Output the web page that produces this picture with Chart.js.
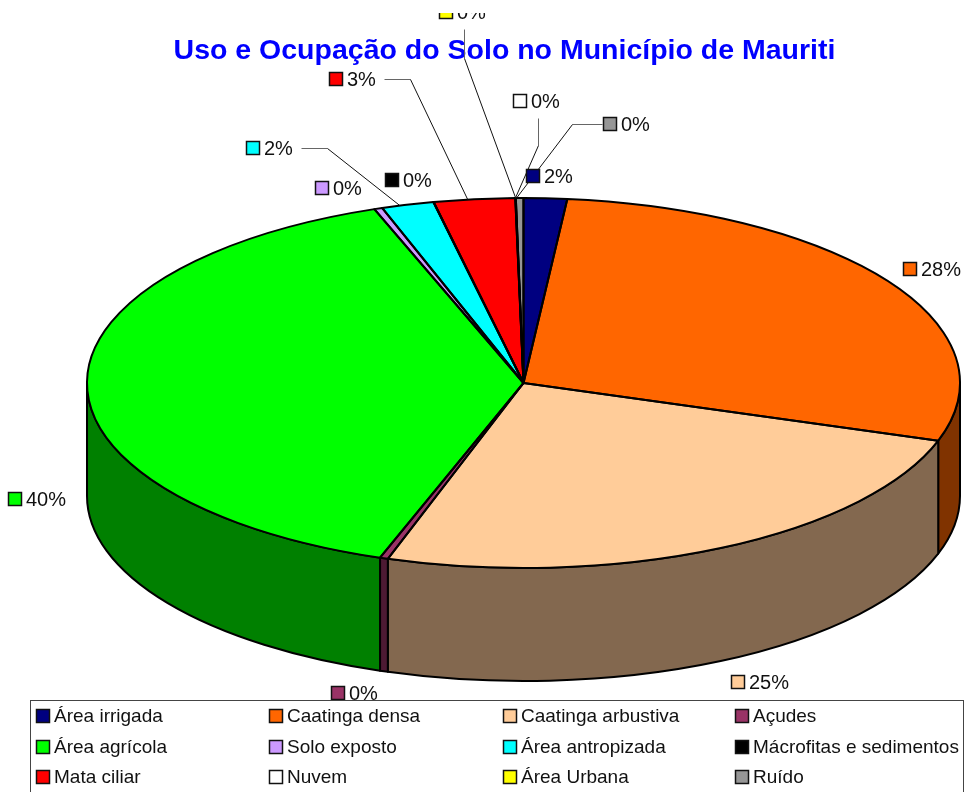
<!DOCTYPE html>
<html>
<head>
<meta charset="utf-8">
<style>html,body{margin:0;padding:0;background:#fff}canvas{display:block}</style>
<script src="https://cdn.jsdelivr.net/npm/chart.js@4"></script>
</head>
<body>
<canvas id="c" width="965" height="792"></canvas>
<script>
const chartTitle = 'Uso e Ocupação do Solo no Município de Mauriti';
const categories = ['Área irrigada','Caatinga densa','Caatinga arbustiva','Açudes','Área agrícola','Solo exposto','Área antropizada','Mácrofitas e sedimentos','Mata ciliar','Nuvem','Área Urbana','Ruído'];
const shares = [1.6,28.45,24.98,0.3,39.12,0.3,1.94,0.01,3.0,0.01,0.01,0.28];
const percentLabels = ['2%','28%','25%','0%','40%','0%','2%','0%','3%','0%','0%','0%'];
const topColours = ['#000080','#FF6600','#FFCC99','#993366','#00FF00','#CC99FF','#00FFFF','#000000','#FF0000','#FFFFFF','#FFFF00','#969696'];
const sideColours = ['#000040','#803300','#83684F','#4D1A33','#008000','#664C80','#008080','#000000','#800000','#808080','#808000','#4B4B4B'];

// Layout of the drawing (not data)
const FONT = '"Liberation Sans", Arial, sans-serif';
const PIE = {cx:523.5, cy:383, rx:436.5, ry:185, depth:113};
const labelSpots = [[526,176],[903,269],[731,682],[331,693],[8,499],[315,188],[246,148],[385,180],[329,79],[513,101],[439,12],[603,124]];
// index -> first points of the leader, and where along the slice it lands
const leaders = {
  6:{pts:[[301,148],[327,148]],f:0.35},
  8:{pts:[[384,79],[410,79]],f:0.42},
  9:{pts:[[538,118],[538,145]],f:0.5},
  10:{pts:[[464,29],[464,58]],f:0.5},
  11:{pts:[[602,124],[572,124]],f:0.1}
};
const legendCols = [36,269,503,735];
const legendRows = [716,747,777];

function arcs(chart){ return chart.getDatasetMeta(0).data; }

const pie3d = {
  id:'pie3d',
  beforeDatasetsDraw(chart){
    const ctx = chart.ctx, P = PIE, list = arcs(chart);
    ctx.save();
    ctx.lineWidth = 2; ctx.strokeStyle = '#000'; ctx.lineJoin = 'round';
    list.forEach((arc,i)=>{
      const a = Math.max(arc.startAngle,0), b = Math.min(arc.endAngle,Math.PI);
      if(b<=a) return;
      ctx.beginPath();
      ctx.ellipse(P.cx,P.cy,P.rx,P.ry,0,a,b);
      ctx.ellipse(P.cx,P.cy+P.depth,P.rx,P.ry,0,b,a,true);
      ctx.closePath();
      ctx.fillStyle = sideColours[i];
      ctx.fill(); ctx.stroke();
    });
    ctx.restore();
    // squash the library's round pie into the tilted ellipse
    const r = list[0];
    ctx.save();
    ctx.translate(P.cx,P.cy);
    ctx.scale(P.rx/r.outerRadius,P.ry/r.outerRadius);
    ctx.translate(-r.x,-r.y);
  },
  afterDatasetsDraw(chart){
    const ctx = chart.ctx, P = PIE, list = arcs(chart);
    ctx.restore();
    ctx.save();
    ctx.lineWidth = 2; ctx.strokeStyle = '#000'; ctx.lineJoin = 'round';
    list.forEach(arc=>{
      ctx.beginPath();
      ctx.moveTo(P.cx,P.cy);
      ctx.ellipse(P.cx,P.cy,P.rx,P.ry,0,arc.startAngle,arc.endAngle);
      ctx.closePath();
      ctx.stroke();
    });
    ctx.restore();
  },
  afterDraw(chart){
    const ctx = chart.ctx, P = PIE, list = arcs(chart);
    ctx.save();
    ctx.beginPath(); ctx.rect(0,13,965,779); ctx.clip();
    // leaders
    ctx.lineWidth = 1;
    Object.keys(leaders).forEach(k=>{
      const L = leaders[k], arc = list[k];
      const t = arc.startAngle+(arc.endAngle-arc.startAngle)*L.f;
      const p0=L.pts[0], p1=L.pts[1];
      ctx.strokeStyle='#666';
      ctx.beginPath(); ctx.moveTo(p0[0]+.5,p0[1]+.5); ctx.lineTo(p1[0]+.5,p1[1]+.5); ctx.stroke();
      ctx.strokeStyle='#111';
      ctx.beginPath(); ctx.moveTo(p1[0]+.5,p1[1]+.5);
      ctx.lineTo(P.cx+P.rx*Math.cos(t),P.cy+P.ry*Math.sin(t)); ctx.stroke();
    });
    // percentage labels
    ctx.font = '20px '+FONT; ctx.textBaseline='middle'; ctx.textAlign='left';
    percentLabels.forEach((text,i)=>{
      const [x,y] = labelSpots[i];
      swatch(ctx,x,y,i);
      ctx.fillStyle='#111';
      ctx.fillText(text,x+18,y+1);
    });
    // legend
    ctx.fillStyle='#fff'; ctx.strokeStyle='#444'; ctx.lineWidth=1;
    ctx.fillRect(30.5,700.5,933,100); ctx.strokeRect(30.5,700.5,933,100);
    ctx.font='19px '+FONT;
    categories.forEach((name,i)=>{
      const x=legendCols[i%4], y=legendRows[Math.floor(i/4)];
      swatch(ctx,x,y,i);
      ctx.fillStyle='#111';
      ctx.fillText(name,x+18,y+1);
    });
    ctx.restore();
  }
};
function swatch(ctx,x,y,i){
  ctx.fillStyle=topColours[i]; ctx.strokeStyle='#111'; ctx.lineWidth=1.5;
  ctx.fillRect(x+.5,y-6.5,13,13); ctx.strokeRect(x+.5,y-6.5,13,13);
}

new Chart(document.getElementById('c'),{
  type:'pie',
  data:{labels:categories,datasets:[{data:shares,backgroundColor:topColours,borderWidth:0}]},
  options:{
    responsive:false, animation:false, devicePixelRatio:1,
    layout:{padding:{left:44,right:0,top:0,bottom:224}},
    plugins:{
      legend:{display:false}, tooltip:{enabled:false},
      title:{display:true,text:chartTitle,color:'#0000FF',
        font:{family:FONT,size:28.5,weight:'bold',lineHeight:1.2},
        padding:{top:34,bottom:130}}
    }
  },
  plugins:[pie3d]
});
</script>
</body>
</html>
